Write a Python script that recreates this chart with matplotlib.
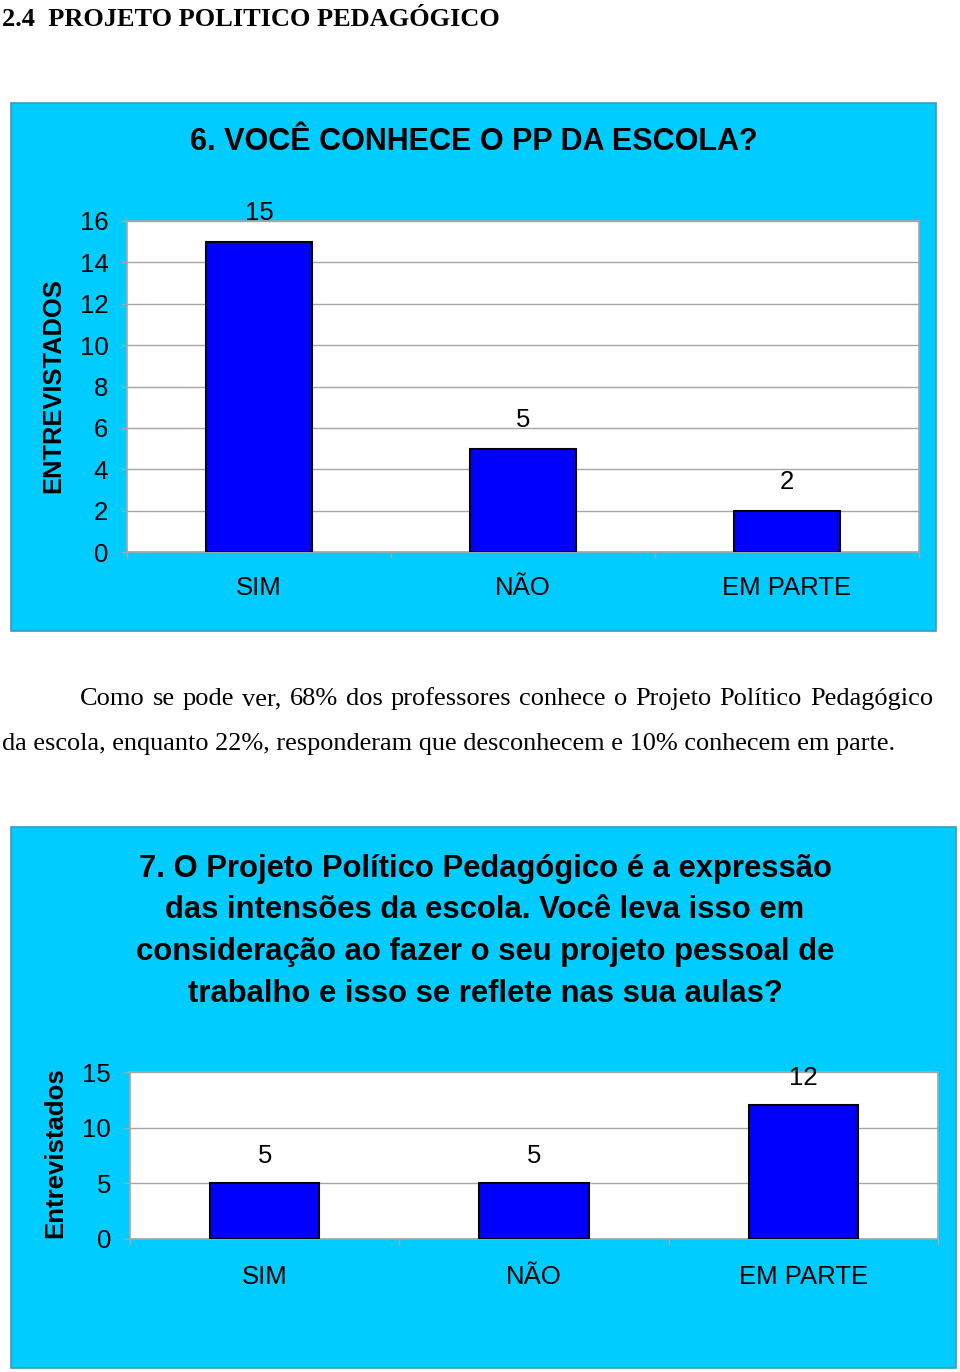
import matplotlib
matplotlib.use("Agg")
import matplotlib.pyplot as plt
from matplotlib.patches import Rectangle

# ---- data ----
heading = "2.4  PROJETO POLITICO PEDAGÓGICO"
title1 = "6. VOCÊ CONHECE O PP DA ESCOLA?"
categories1 = ["SIM", "NÃO", "EM PARTE"]
values1 = [15, 5, 2]
yticks1 = [0, 2, 4, 6, 8, 10, 12, 14, 16]
ylabel1 = "ENTREVISTADOS"

para_line1 = "Como se pode ver, 68% dos professores conhece o Projeto Político Pedagógico"
para_line2 = "da escola, enquanto 22%, responderam que desconhecem e 10% conhecem em parte."

title2_lines = ["7. O Projeto Político Pedagógico é a expressão",
                "das intensões da escola. Você leva isso em",
                "consideração ao fazer o seu projeto pessoal de",
                "trabalho e isso se reflete nas sua aulas?"]
categories2 = ["SIM", "NÃO", "EM PARTE"]
values2 = [5, 5, 12]
yticks2 = [0, 5, 10, 15]
ylabel2 = "Entrevistados"

# ---- style ----
W, H = 960, 1372
CYAN = "#00CCFF"
BLUE = "#0000FF"
GRID = "#A6A6A6"
SANS = ["Liberation Sans", "DejaVu Sans"]
SERIF = ["Liberation Serif", "DejaVu Serif"]
FS = 18.5

fig = plt.figure(figsize=(W / 100, H / 100), dpi=100)
fig.patch.set_facecolor("white")


def fx(px):
    return px / W


def fy(py):
    return 1 - py / H


def panel(x0, y0, x1, y1):
    fig.patches.append(Rectangle((fx(x0), fy(y1)), fx(x1 - x0), (y1 - y0) / H,
                                 transform=fig.transFigure, facecolor=CYAN,
                                 edgecolor="#3A9AC0", linewidth=1.2, zorder=-5))


def bar_axes(box, cats, vals, ticks, ymax, label_off, xpad):
    x0, y0, x1, y1 = box
    ax = fig.add_axes([fx(x0), fy(y1), fx(x1 - x0), (y1 - y0) / H])
    ax.set_facecolor("white")
    xs = list(range(len(cats)))
    bars = ax.bar(xs, vals, width=0.405, color=BLUE, edgecolor="black",
                  linewidth=1.5, zorder=3)
    ax.set_xlim(-0.5, len(cats) - 0.5)
    ax.set_ylim(0, ymax)
    ax.set_yticks(ticks)
    ax.set_yticklabels([str(t) for t in ticks], fontsize=FS, family=SANS)
    ax.set_xticks(xs)
    ax.set_xticklabels(cats, fontsize=FS, family=SANS)
    ax.set_xticks([i + 0.5 for i in range(-1, len(cats))], minor=True)
    ax.tick_params(axis="x", which="major", length=0, pad=xpad)
    ax.tick_params(axis="x", which="minor", length=4, color=GRID, width=1)
    ax.tick_params(axis="y", length=4, color=GRID, width=1, pad=9.5)
    ax.yaxis.grid(True, color=GRID, linewidth=1, zorder=0)
    ax.set_axisbelow(True)
    for s in ax.spines.values():
        s.set_color(GRID)
        s.set_linewidth(1.2)
    for b, v in zip(bars, vals):
        ax.annotate(str(v), (b.get_x() + b.get_width() / 2, v),
                    xytext=(0, label_off), textcoords="offset points",
                    ha="center", va="center", fontsize=FS, family=SANS,
                    annotation_clip=False)
    return ax


# heading
fig.text(fx(2), fy(19), heading, fontsize=19, fontweight="bold",
         family=SERIF, ha="left", va="center")

# panel 1
panel(11, 103, 936, 631)
fig.text(fx(474), fy(142), title1, fontsize=22, fontweight="bold",
         family=SANS, ha="center", va="center")
bar_axes((127, 221, 919, 552), categories1, values1, yticks1, 16, 20.5, 17.5)
fig.text(fx(53), fy(386), ylabel1, fontsize=18.4, fontweight="bold", family=SANS,
         rotation=90, ha="center", va="center")

# paragraph (justified first line)
fig.canvas.draw()
renderer = fig.canvas.get_renderer()
words = para_line1.split(" ")
x_left, x_right, y_line = 80, 933, 699
wtexts = [fig.text(0, fy(y_line), w, fontsize=19, family=SERIF, ha="left",
                   va="center") for w in words]
widths = [t.get_window_extent(renderer).width for t in wtexts]
gap = (x_right - x_left - sum(widths)) / (len(words) - 1)
cur = x_left
for t, w in zip(wtexts, widths):
    t.set_x(fx(cur))
    cur += w + gap
fig.text(fx(2), fy(744), para_line2, fontsize=18.9, family=SERIF, ha="left",
         va="center")

# panel 2
panel(11, 827, 956, 1368)
for i, line in enumerate(title2_lines):
    fig.text(fx(485), fy(869 + i * 41.5), line, fontsize=22.3, fontweight="bold",
             family=SANS, ha="center", va="center")
bar_axes((130, 1072, 938, 1239), categories2, values2, yticks2, 15, 20, 19)
fig.text(fx(55), fy(1153), ylabel2, fontsize=18.5, fontweight="bold", family=SANS,
         rotation=90, ha="center", va="center")

fig.savefig("out.png", dpi=100)
